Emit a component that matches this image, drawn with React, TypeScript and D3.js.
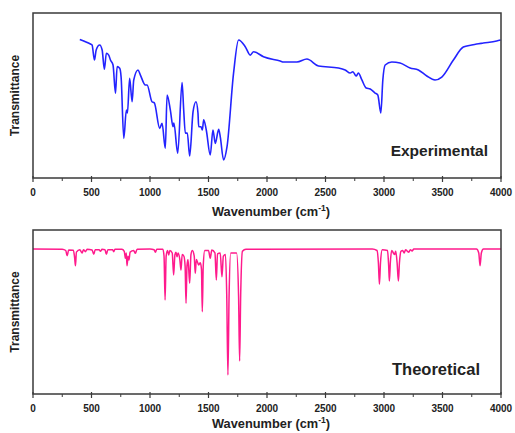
import React from "react";
import * as d3 from "d3";

// Experimental spectrum (wavenumber cm^-1, transmittance a.u.)
const expWavenumber = [400, 491, 505, 525, 540, 570, 591, 610, 627, 647, 662, 684, 705, 719, 741, 753, 776, 798, 807, 826, 847, 861, 898, 918, 960, 975, 1017, 1037, 1083, 1103, 1131, 1146, 1174, 1197, 1204, 1237, 1274, 1288, 1302, 1319, 1339, 1368, 1393, 1410, 1416, 1436, 1447, 1459, 1481, 1515, 1538, 1558, 1587, 1601, 1629, 1658, 1714, 1757, 1814, 1857, 1885, 1970, 2113, 2141, 2256, 2341, 2440, 2611, 2668, 2711, 2734, 2762, 2781, 2811, 2848, 2882, 2924, 2947, 2973, 2990, 3010, 3067, 3137, 3223, 3294, 3366, 3436, 3494, 3593, 3678, 3750, 3792, 3849, 3963, 3997];
const expTransmittance = [84, 81.2, 80.6, 71.5, 77.6, 80.6, 77.6, 65.9, 75.6, 74.5, 71.5, 68.5, 51.3, 67.5, 66.5, 61.2, 24, 41.2, 39.4, 60.4, 46.2, 59.4, 65.5, 62.4, 56.4, 56.4, 46.2, 45.5, 30.1, 33.1, 18, 50.3, 41.2, 31.1, 33.3, 15, 57.8, 41.2, 27.1, 27.3, 13.3, 40.2, 46.2, 39.4, 31.1, 31.1, 29.1, 35.2, 29.1, 13.9, 29.1, 21, 29.5, 24.8, 10.9, 18.8, 63.4, 83.6, 79.6, 74.5, 76.5, 73.5, 70.9, 70.3, 70.3, 72.1, 67.9, 66.7, 65.5, 63.6, 64.4, 61.8, 63.6, 59.4, 54.5, 53.9, 51.5, 50.3, 39.4, 59.4, 68.5, 70.3, 69.7, 66.7, 65.5, 61.8, 59.4, 61.2, 71.5, 79.4, 80.6, 81.2, 81.8, 83, 83.6];

// Theoretical spectrum (wavenumber cm^-1, transmittance a.u.)
const theoWavenumber = [0, 250, 280, 292, 305, 345, 356, 363, 371, 400, 420, 432, 448, 462, 505, 519, 532, 565, 576, 590, 615, 627, 640, 680, 690, 700, 760, 780, 790, 797, 804, 812, 820, 830, 860, 875, 890, 1000, 1035, 1046, 1058, 1110, 1120, 1129, 1138, 1150, 1160, 1170, 1190, 1202, 1213, 1222, 1231, 1240, 1255, 1265, 1275, 1290, 1300, 1308, 1316, 1325, 1339, 1350, 1362, 1378, 1387, 1396, 1408, 1416, 1430, 1440, 1447, 1455, 1468, 1500, 1515, 1528, 1555, 1567, 1577, 1600, 1615, 1627, 1645, 1656, 1666, 1676, 1690, 1740, 1757, 1766, 1775, 1790, 1820, 2900, 2940, 2952, 2961, 2970, 2985, 3030, 3040, 3046, 3054, 3066, 3080, 3090, 3100, 3112, 3123, 3132, 3145, 3160, 3172, 3185, 3200, 3212, 3225, 3240, 3255, 3790, 3810, 3821, 3832, 3850, 4000];
const theoTransmittance = [88.4, 88.3, 87.5, 84.3, 87.8, 87.6, 83, 78.2, 86.5, 88, 86, 88, 86.8, 88.2, 87.8, 85.2, 88, 88, 87, 88.2, 88, 85.2, 88, 88, 86.8, 88.2, 88.2, 87, 82.7, 86, 78.2, 84, 81.7, 86.5, 87.5, 85.8, 88.3, 88.4, 88, 86.4, 88.3, 88.3, 84, 57.3, 84, 87.5, 84.8, 87.5, 86, 72.6, 85, 86.5, 83.7, 86, 82, 75.6, 85, 84, 78, 55.3, 78, 82, 67.5, 85, 87.5, 84, 73.6, 82, 80, 78.7, 80, 76, 50.2, 78, 87.5, 87.5, 82.7, 87.8, 86, 69.5, 85.5, 86, 71.5, 84, 85, 60, 11.6, 60, 86, 86, 60, 20.1, 60, 87, 88.3, 88.4, 87.5, 80, 66.9, 80, 88, 87.5, 78, 68.9, 80, 87.5, 86, 85, 87, 80, 68.9, 80, 87, 87.5, 86, 88, 87, 86.5, 88, 87.2, 88.4, 88.4, 86, 78.2, 86, 88.4, 88.4];

const xTickValues = [0, 500, 1000, 1500, 2000, 2500, 3000, 3500, 4000];
const xMinorTickValues = [250, 750, 1250, 1750, 2250, 2750, 3250, 3750];
const panelLabels = ["Experimental", "Theoretical"];
const xTitle = "Wavenumber (cm";
const yTitle = "Transmittance";

const W = 515;
const H = 433;
const left = 33;
const right = 501;
const FONT = "'Liberation Sans', Arial, sans-serif";

type PanelProps = {
  top: number;
  bottom: number;
  xs: number[];
  ys: number[];
  color: string;
  width: number;
  label: string;
  labelSize: number;
  labelX: number;
  labelY: number;
  titleOffset: number;
};

function Panel({ top, bottom, xs, ys, color, width, label, labelSize, labelX, labelY, titleOffset }: PanelProps) {
  const x = d3.scaleLinear().domain([0, 4000]).range([left, right]);
  const y = d3.scaleLinear().domain([0, 100]).range([bottom, top]);
  const pts: [number, number][] = xs.map((v, i) => [v, ys[i]]);
  const line = d3
    .line<[number, number]>()
    .x((d) => x(d[0]))
    .y((d) => y(d[1]))
    .curve(d3.curveMonotoneX);
  const midY = (top + bottom) / 2;
  return (
    <g>
      <path d={line(pts) || ""} fill="none" stroke={color} strokeWidth={width} strokeLinejoin="round" />
      <rect x={left} y={top} width={right - left} height={bottom - top} fill="none" stroke="#3a3a3a" strokeWidth={1.5} />
      {xTickValues.map((t) => (
        <g key={"M" + t}>
          <line x1={x(t)} x2={x(t)} y1={bottom - 2} y2={bottom + 4} stroke="#3a3a3a" strokeWidth={1.2} />
          <text x={x(t)} y={bottom + 18} textAnchor="middle" fontFamily={FONT} fontWeight="bold" fontSize={10} fill="#222">
            {t}
          </text>
        </g>
      ))}
      {xMinorTickValues.map((t) => (
        <line key={"m" + t} x1={x(t)} x2={x(t)} y1={bottom} y2={bottom + 3} stroke="#3a3a3a" strokeWidth={1} />
      ))}
      <text x={(left + right) / 2 + 4} y={bottom + titleOffset} textAnchor="middle" fontFamily={FONT} fontWeight="bold" fontSize={12.8} fill="#222">
        {xTitle}
        <tspan fontSize={8.5} dy={-5}>-1</tspan>
        <tspan dy={5}>)</tspan>
      </text>
      <text
        transform={`translate(19,${midY}) rotate(-90)`}
        textAnchor="middle"
        fontFamily={FONT}
        fontWeight="bold"
        fontSize={12}
        fill="#222"
      >
        {yTitle}
      </text>
      <text x={labelX} y={labelY} textAnchor="end" fontFamily={FONT} fontWeight="bold" fontSize={labelSize} fill="#222">
        {label}
      </text>
    </g>
  );
}

export default function App() {
  return (
    <svg width={W} height={H} style={{ position: "absolute", left: 0, top: 0, background: "#fff" }}>
      <rect x={0} y={0} width={W} height={H} fill="#fff" />
      <Panel
        top={13}
        bottom={178}
        xs={expWavenumber}
        ys={expTransmittance}
        color="#2323ff"
        width={1.6}
        label={panelLabels[0]}
        labelSize={15.5}
        labelX={488}
        labelY={156}
        titleOffset={38}
      />
      <Panel
        top={230}
        bottom={394}
        xs={theoWavenumber}
        ys={theoTransmittance}
        color="#ff1a8c"
        width={1.5}
        label={panelLabels[1]}
        labelSize={16.5}
        labelX={480}
        labelY={375}
        titleOffset={34}
      />
    </svg>
  );
}
